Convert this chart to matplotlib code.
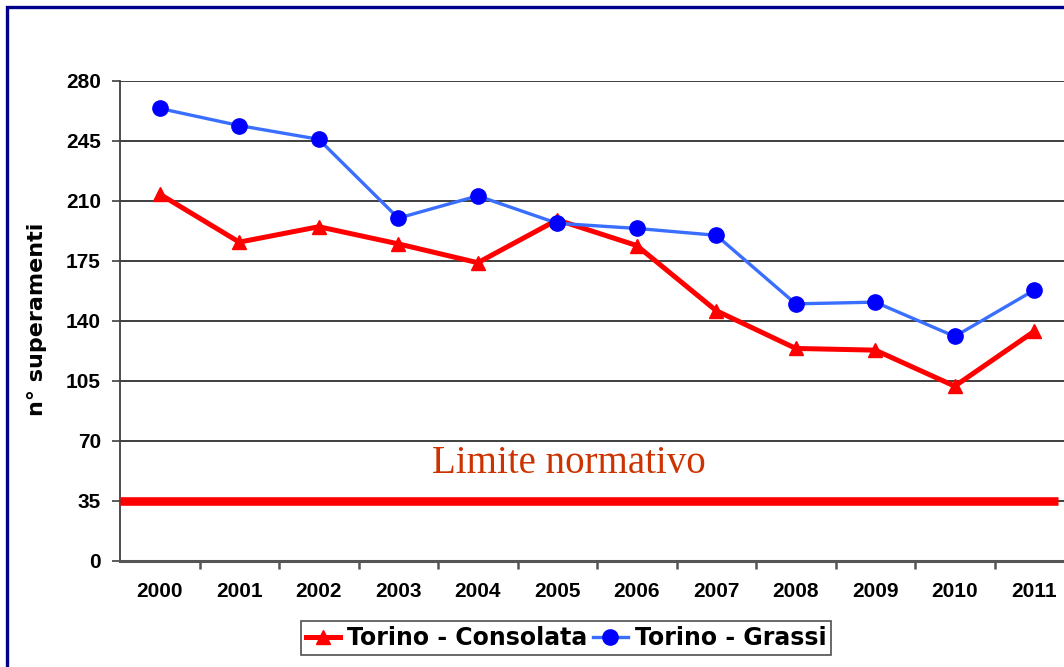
import matplotlib
matplotlib.use("Agg")
import matplotlib.pyplot as plt
from matplotlib.patches import Rectangle
from matplotlib.ticker import FixedLocator, NullFormatter

years = ["2000", "2001", "2002", "2003", "2004", "2005",
         "2006", "2007", "2008", "2009", "2010", "2011"]
consolata = [214, 186, 195, 185, 174, 199, 184, 146, 124, 123, 102, 134]
grassi = [264, 254, 246, 200, 213, 197, 194, 190, 150, 151, 131, 158]
limit_value = 35
y_ticks = [0, 35, 70, 105, 140, 175, 210, 245, 280]

W, H = 1064, 667
fig = plt.figure(figsize=(W / 100, H / 100), dpi=100)
fig.patch.set_facecolor("white")

# axes: left 120px, bottom 561px, top 81px, right extends past image edge
ax = fig.add_axes([120 / W, 1 - 561 / H, 954 / W, 480 / H])

x = list(range(len(years)))

ax.set_ylim(0, 280)
ax.set_xlim(-0.5, len(years) - 0.5)

# grid
for v in y_ticks[1:]:
    ax.axhline(v, color="#303030", lw=1.3, zorder=1)

# limit line
ax.axhline(limit_value, xmin=0, xmax=(1058 - 120) / 954, color="#FF0000",
           lw=6.2, solid_capstyle="butt", zorder=3)

ax.plot(x, consolata, color="#FF0000", lw=3.6, marker="^", markersize=10,
        markerfacecolor="#FF0000", markeredgecolor="#FF0000",
        label="Torino - Consolata", zorder=4)
ax.plot(x, grassi, color="#3A6EFF", lw=2.4, marker="o", markersize=11,
        markerfacecolor="#0000FF", markeredgecolor="#0000FF",
        label="Torino - Grassi", zorder=5)

ax.text(5.15, 57, "Limite normativo", family="Liberation Serif",
        fontsize=28, color="#CC3300", ha="center", va="center", zorder=6)

# spines
for s in ["top", "right"]:
    ax.spines[s].set_visible(False)
ax.spines["left"].set_color("#404040")
ax.spines["left"].set_linewidth(1.3)
ax.spines["bottom"].set_color("#555555")
ax.spines["bottom"].set_linewidth(2.2)

# y ticks
ax.set_yticks(y_ticks)
ax.set_yticklabels([str(v) for v in y_ticks], fontsize=15,
                   fontweight="bold", family="Liberation Sans")
ax.tick_params(axis="y", direction="out", length=5.8, width=1.2,
               color="#404040", pad=8)

# x ticks: marks at boundaries, labels at centers
ax.xaxis.set_major_locator(FixedLocator([i + 0.5 for i in range(len(years))]))
ax.xaxis.set_major_formatter(NullFormatter())
ax.xaxis.set_minor_locator(FixedLocator(x))
ax.set_xticklabels(years, minor=True, fontsize=15, fontweight="bold",
                   family="Liberation Sans")
ax.tick_params(axis="x", which="major", direction="out", length=6,
               width=1.8, color="#555555")
ax.tick_params(axis="x", which="minor", length=0, pad=15)

# y label
fig.text(37 / W, 1 - 319 / H, "n° superamenti", rotation=90,
         fontsize=16, fontweight="bold", family="DejaVu Sans",
         ha="center", va="center")

# legend
leg = fig.legend(loc="center", bbox_to_anchor=(566 / W, 1 - 638 / H),
                 ncol=2, frameon=True, fancybox=False,
                 prop={"family": "DejaVu Sans", "weight": "bold",
                       "size": 17},
                 handlelength=1.45, handletextpad=0.3, columnspacing=0.25,
                 borderpad=0.2, borderaxespad=0)
leg.get_frame().set_edgecolor("#222222")
leg.get_frame().set_linewidth(1.2)

# outer navy frame
fig.patches.append(Rectangle((7 / W, -0.1), 1.2, 1 - 6.5 / H + 0.1,
                             transform=fig.transFigure, fill=False,
                             edgecolor="#00008B", lw=2.4, zorder=0))

fig.savefig("out.png", dpi=100, facecolor="white")
